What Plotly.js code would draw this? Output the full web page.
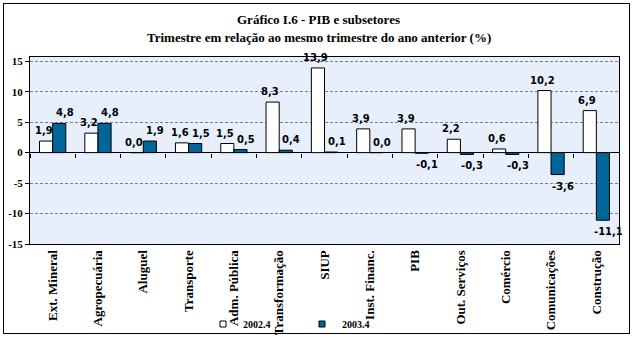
<!DOCTYPE html>
<html>
<head>
<meta charset="utf-8">
<script src="https://cdn.plot.ly/plotly-3.0.1.min.js"></script>
<style>
  html, body { margin: 0; padding: 0; background: #ffffff; }
  #wrap { position: relative; width: 633px; height: 337px; }
  #chart { width: 633px; height: 337px; }
  #frame { position: absolute; left: 3px; top: 3px; width: 625px; height: 329px; border: 1px solid #000; pointer-events: none; }
</style>
</head>
<body>
<div id="wrap">
  <div id="chart"></div>
  <div id="frame"></div>
</div>
<script>
const categories = ['Ext. Mineral', 'Agropecuária', 'Aluguel', 'Transporte', 'Adm. Pública', 'Transformação', 'SIUP', 'Inst. Financ.', 'PIB', 'Out. Serviços', 'Comércio', 'Comunicações', 'Construção'];
const values2002 = [1.9, 3.2, 0.0, 1.6, 1.5, 8.3, 13.9, 3.9, 3.9, 2.2, 0.6, 10.2, 6.9];
const values2003 = [4.8, 4.8, 1.9, 1.5, 0.5, 0.4, 0.1, 0.0, -0.1, -0.3, -0.3, -3.6, -11.1];
const seriesNames = ['2002.4', '2003.4'];
const seriesColors = ['#ffffff', '#006699'];
const titleLines = ['Gráfico I.6 - PIB e subsetores', 'Trimestre em relação ao mesmo trimestre do ano anterior (%)'];
const yTickVals = [-15, -10, -5, 0, 5, 10, 15];
const yTickText = ['-15', '-10', '-5', '0', '5', '10', '15'];

const yMin = -15, yMax = 15.7;
const serif = 'Liberation Serif, Times New Roman, serif';
const labelFont = { family: 'DejaVu Sans', size: 10, weight: 'bold', color: '#000' };
const fmt = v => v.toFixed(1).replace('.', ',');

const traces = [
  {
    type: 'bar', name: seriesNames[0], x: categories, y: values2002, showlegend: false,
    marker: { color: seriesColors[0], line: { color: '#000000', width: 1 } },
    hoverinfo: 'none'
  },
  {
    type: 'bar', name: seriesNames[1], x: categories, y: values2003, showlegend: false,
    marker: { color: seriesColors[1], line: { color: '#000000', width: 1 } },
    hoverinfo: 'none'
  },
  // legend entries (small square swatches, as in the original)
  {
    type: 'scatter', mode: 'markers', name: seriesNames[0], x: [null], y: [null],
    marker: { symbol: 'square', size: 6, color: seriesColors[0], line: { color: '#000', width: 1 } },
    hoverinfo: 'none'
  },
  {
    type: 'scatter', mode: 'markers', name: seriesNames[1], x: [null], y: [null],
    marker: { symbol: 'square', size: 6, color: seriesColors[1], line: { color: '#000', width: 1 } },
    hoverinfo: 'none'
  },
  // carries the tick marks on the zero line
  {
    type: 'scatter', mode: 'none', x: categories, y: values2002,
    xaxis: 'x2', yaxis: 'y', showlegend: false, hoverinfo: 'none'
  }
];

// value labels, placed at each bar's end through the axes
function valueLabels(vals, xshift) {
  return vals.map((v, i) => ({
    x: categories[i], y: v, xref: 'x', yref: 'y',
    text: fmt(v), showarrow: false, font: labelFont,
    xanchor: 'center', yanchor: v < 0 ? 'top' : 'bottom',
    xshift: xshift, yshift: v < 0 ? -4 : 3
  }));
}

const annotations = [
  {
    text: titleLines[0], xref: 'paper', yref: 'paper', x: 0.49, y: (244 - 19) / 187,
    xanchor: 'center', yanchor: 'middle', showarrow: false,
    font: { family: serif, size: 13, weight: 'bold', color: '#000' }
  },
  {
    text: titleLines[1], xref: 'paper', yref: 'paper', x: 0.49, y: (244 - 37) / 187,
    xanchor: 'center', yanchor: 'middle', showarrow: false,
    font: { family: serif, size: 13, weight: 'bold', color: '#000' }
  }
].concat(valueLabels(values2002, -9), valueLabels(values2003, 12));

const layout = {
  width: 633, height: 337,
  margin: { l: 30, r: 14, t: 57, b: 93 },
  paper_bgcolor: '#ffffff',
  plot_bgcolor: '#e7effc',
  barmode: 'group',
  bargap: 0.42,
  bargroupgap: 0,
  annotations: annotations,
  xaxis: {
    type: 'category', range: [-0.5, 12.5], automargin: false,
    showline: true, mirror: true, linecolor: '#000', linewidth: 1,
    ticks: '', tickangle: -90,
    tickfont: { family: serif, size: 13, weight: 'bold', color: '#000' },
    showgrid: false, fixedrange: true
  },
  xaxis2: {
    type: 'category', overlaying: 'x', anchor: 'free',
    position: (0 - yMin) / (yMax - yMin),
    range: [-0.5, 12.5],
    ticks: 'outside', ticklen: 4, tickcolor: '#000', tickson: 'boundaries',
    showticklabels: false, showline: false, showgrid: false, fixedrange: true
  },
  yaxis: {
    range: [yMin, yMax], automargin: false,
    tickvals: yTickVals, ticktext: yTickText,
    ticks: 'outside', ticklen: 4, tickcolor: '#000',
    showline: true, mirror: true, linecolor: '#000', linewidth: 1,
    showgrid: true, gridcolor: '#808080', gridwidth: 1, griddash: '3px,2px',
    zeroline: true, zerolinecolor: '#000', zerolinewidth: 1,
    tickfont: { family: serif, size: 11, weight: 'bold', color: '#000' },
    fixedrange: true
  },
  showlegend: true,
  legend: {
    orientation: 'h', xref: 'container', yref: 'container',
    x: 203 / 633, xanchor: 'left', y: 13 / 337, yanchor: 'middle',
    entrywidth: 54, entrywidthmode: 'pixels',
    font: { family: serif, size: 10, weight: 'bold', color: '#000' },
    bgcolor: 'rgba(0,0,0,0)'
  }
};

Plotly.newPlot('chart', traces, layout, { staticPlot: true, displayModeBar: false });
</script>
</body>
</html>
